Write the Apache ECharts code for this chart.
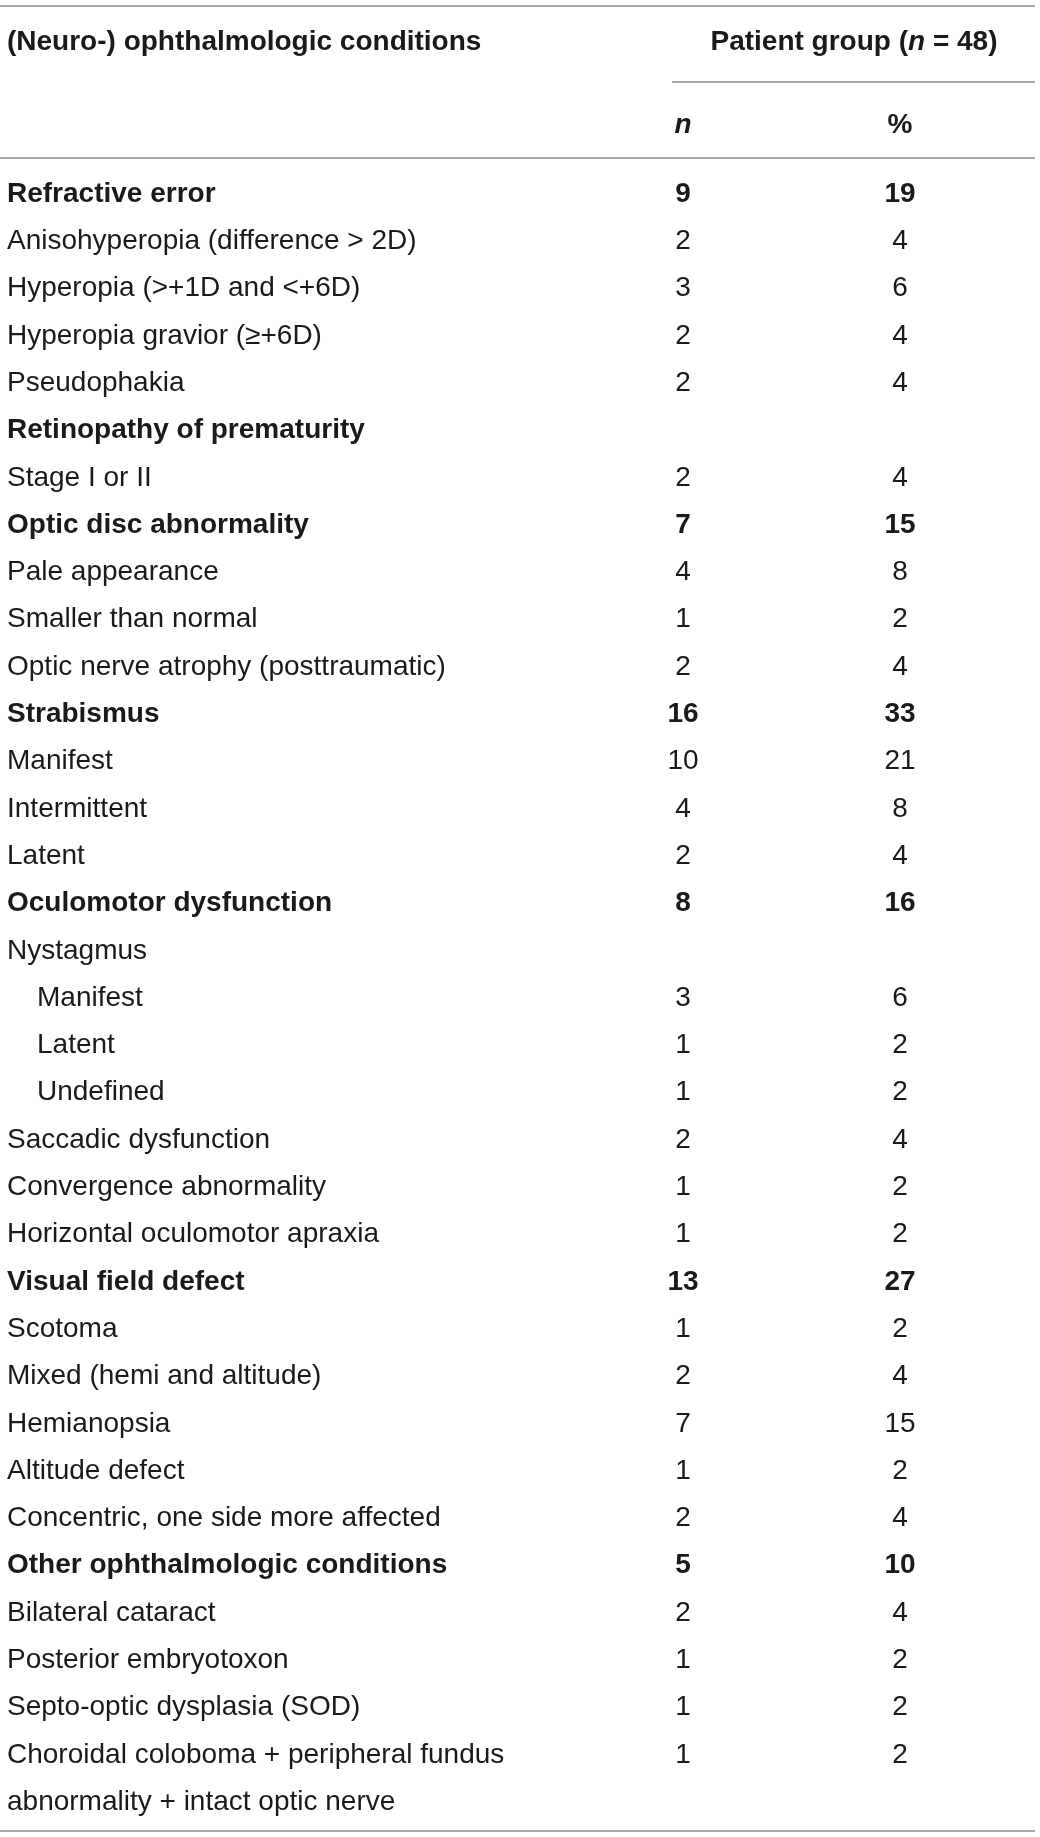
<!DOCTYPE html>
<html>
<head>
<meta charset="utf-8">
<script src="https://cdn.jsdelivr.net/npm/echarts@6/dist/echarts.min.js"></script>
<style>
  html, body { margin: 0; padding: 0; background: #fff; }
  #chart { width: 1040px; height: 1837px; }
</style>
</head>
<body>
<div id="chart"></div>
<script>
// table rows, top to bottom
var rowLabels = [
  'Refractive error',
  'Anisohyperopia (difference > 2D)',
  'Hyperopia (>+1D and <+6D)',
  'Hyperopia gravior (\u2265+6D)',
  'Pseudophakia',
  'Retinopathy of prematurity',
  'Stage I or II',
  'Optic disc abnormality',
  'Pale appearance',
  'Smaller than normal',
  'Optic nerve atrophy (posttraumatic)',
  'Strabismus',
  'Manifest',
  'Intermittent',
  'Latent',
  'Oculomotor dysfunction',
  'Nystagmus',
  'Manifest',
  'Latent',
  'Undefined',
  'Saccadic dysfunction',
  'Convergence abnormality',
  'Horizontal oculomotor apraxia',
  'Visual field defect',
  'Scotoma',
  'Mixed (hemi and altitude)',
  'Hemianopsia',
  'Altitude defect',
  'Concentric, one side more affected',
  'Other ophthalmologic conditions',
  'Bilateral cataract',
  'Posterior embryotoxon',
  'Septo-optic dysplasia (SOD)',
  'Choroidal coloboma + peripheral fundus',
  'abnormality + intact optic nerve'
];
var nValues = [9, 2, 3, 2, 2, null, 2, 7, 4, 1, 2, 16, 10, 4, 2, 8, null, 3, 1, 1, 2, 1, 1, 13, 1, 2, 7, 1, 2, 5, 2, 1, 1, 1, null];
var pctValues = [19, 4, 6, 4, 4, null, 4, 15, 8, 2, 4, 33, 21, 8, 4, 16, null, 6, 2, 2, 4, 2, 2, 27, 2, 4, 15, 2, 4, 10, 4, 2, 2, 2, null];
var boldRows = [0, 5, 7, 11, 15, 23, 29];
var indentRows = [17, 18, 19];
var headLabel = '(Neuro-) ophthalmologic conditions';
var headGroup = 'Patient group';
var headN = 48;

var FONT = '"Liberation Sans", Arial, Helvetica, sans-serif';
var INK = '#1a1a1a';
var RULE = '#8c8c8c';
var COL_LABEL = 7, COL_INDENT = 37, COL_N = 683, COL_PCT = 900;

var chart = echarts.init(document.getElementById('chart'));

var rowKeys = rowLabels.map(function (_, i) { return String(i); });

function isBold(i) { return boldRows.indexOf(i) >= 0; }

var labelData = rowLabels.map(function (t, i) {
  return {
    value: [indentRows.indexOf(i) >= 0 ? COL_INDENT : COL_LABEL, i],
    name: t,
    label: { fontWeight: isBold(i) ? 'bold' : 'normal' }
  };
});

function numData(arr, x) {
  var out = [];
  arr.forEach(function (v, i) {
    if (v === null) return;
    out.push({ value: [x, i, v], label: { fontWeight: isBold(i) ? 'bold' : 'normal' } });
  });
  return out;
}

var baseLabel = {
  show: true,
  color: INK,
  opacity: 1,
  textBorderWidth: 0,
  fontFamily: FONT,
  fontSize: 28,
  verticalAlign: 'middle'
};

function textSeries(data, label) {
  return {
    type: 'scatter',
    symbolSize: 0,
    silent: true,
    itemStyle: { opacity: 1 },
    data: data,
    label: Object.assign({}, baseLabel, label)
  };
}

function hline(x1, x2, y) {
  return {
    type: 'line',
    silent: true,
    shape: { x1: x1, y1: y, x2: x2, y2: y },
    style: { stroke: RULE, lineWidth: 1.5 }
  };
}
function htext(x, y, text, align, rich) {
  return {
    type: 'text',
    silent: true,
    x: x, y: y,
    style: {
      text: text,
      align: align,
      verticalAlign: 'middle',
      fill: INK,
      font: 'bold 28px ' + FONT,
      rich: rich
    }
  };
}

chart.setOption({
  animation: false,
  backgroundColor: '#fff',
  grid: { left: 0, right: 0, top: 170.35, height: 1655.5 },
  xAxis: { type: 'value', min: 0, max: 1040, show: false },
  yAxis: { type: 'category', data: rowKeys, inverse: true, show: false },
  series: [
    textSeries(labelData, {
      position: 'right',
      distance: 0,
      align: 'left',
      formatter: function (p) { return p.name; }
    }),
    textSeries(numData(nValues, COL_N), {
      position: 'inside',
      align: 'center',
      formatter: function (p) { return String(p.value[2]); }
    }),
    textSeries(numData(pctValues, COL_PCT), {
      position: 'inside',
      align: 'center',
      formatter: function (p) { return String(p.value[2]); }
    })
  ],
  graphic: [
    hline(0, 1035, 6),
    hline(672, 1035, 82),
    hline(0, 1035, 158),
    hline(0, 1035, 1831),
    htext(COL_LABEL, 42, headLabel, 'left'),
    htext(854, 42, '{b|' + headGroup + ' (}{i|n}{b| = ' + headN + ')}', 'center', {
      b: { font: 'bold 28px ' + FONT, fill: INK },
      i: { font: 'italic bold 28px ' + FONT, fill: INK }
    }),
    htext(COL_N, 125, '{i|n}', 'center', {
      i: { font: 'italic bold 28px ' + FONT, fill: INK }
    }),
    htext(COL_PCT, 125, '%', 'center')
  ]
});
</script>
</body>
</html>
